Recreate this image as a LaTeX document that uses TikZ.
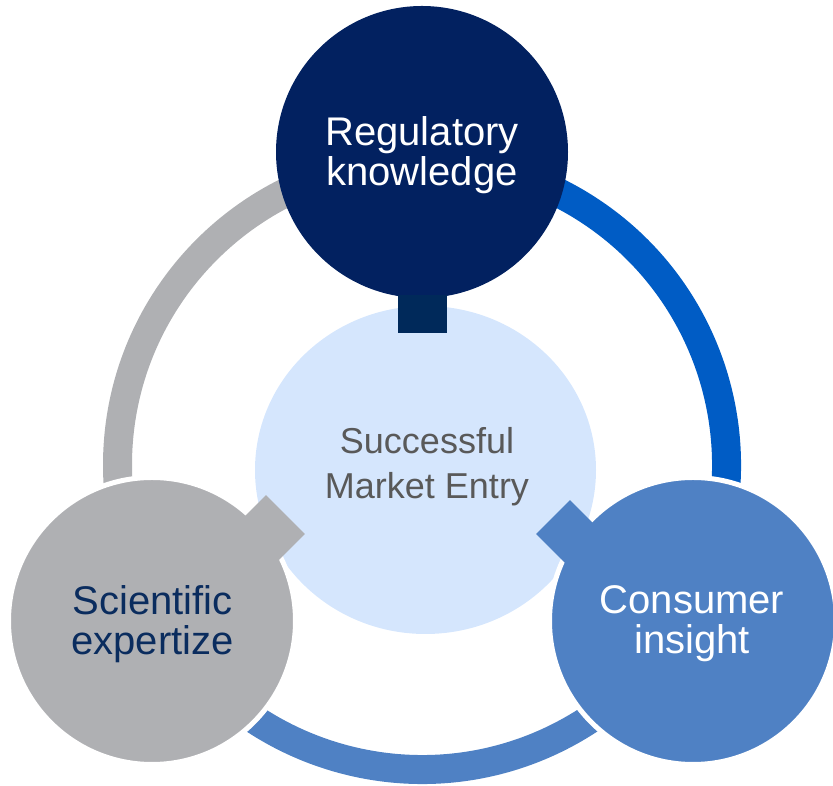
\documentclass[tikz,border=0pt]{standalone}
\usepackage{fontspec}
\setmainfont{Liberation Sans}
\usetikzlibrary{shapes.geometric}
\definecolor{navy}{HTML}{022160}
\definecolor{navylink}{HTML}{00295A}
\definecolor{greyring}{HTML}{AFB0B3}
\definecolor{brightblue}{HTML}{005CC5}
\definecolor{midblue}{HTML}{4F81C4}
\definecolor{paleblue}{HTML}{D5E6FD}
\definecolor{textgrey}{HTML}{595959}
\definecolor{textnavy}{HTML}{0A2C5E}
\tikzset{
  bubble/.style={circle, inner sep=0pt, minimum size=287pt, draw=white, line width=5pt},
  bubbletext/.style={align=center, inner sep=0pt, font=\fontsize{40}{40}\selectfont},
  link/.style={rectangle, inner sep=0pt, draw=none},
}

\begin{document}
\begin{tikzpicture}[x=1pt,y=1pt]
\useasboundingbox (0,0) rectangle (833,786);
\coordinate (ring) at (422,321);
% outer ring in three parts
\draw[line width=29pt, greyring] ([shift={(90:304.5)}]ring) arc (90:210:304.5);
\draw[line width=29pt, brightblue] ([shift={(-30:304.5)}]ring) arc (-30:90:304.5);
\draw[line width=29pt, midblue] ([shift={(210:304.5)}]ring) arc (210:330:304.5);

\node[ellipse, fill=paleblue, inner sep=0pt, minimum width=341pt, minimum height=328pt] (goal) at (425.5,316) {};
\node[bubbletext, font=\fontsize{36}{45}\selectfont, text=textgrey] (goaltext) at (427,319) {Successful\\Market Entry};

\node[circle, inner sep=0pt, minimum size=292pt, fill=navy] (regul) at (422,634) {};
\node[bubbletext, text=white] (regultext) at (422,631) {Regulatory\\knowledge};
\node[bubble, fill=greyring] (science) at (152,165) {};
\node[bubbletext, text=textnavy] (sciencetext) at (152.5,162) {Scientific\\expertize};
\node[bubble, fill=midblue] (consumer) at (693,165) {};
\node[bubbletext, text=white] (consumertext) at (692,162) {Consumer\\insight};

% links to the centre
\node[link, fill=navylink, minimum width=49pt, minimum height=38pt] (regullink) at (422.5,472) {};
\node[link, fill=greyring, minimum size=55pt, rotate=45] (sciencelink) at (266,252) {};
\node[link, fill=midblue, minimum size=48pt, rotate=45] (consumerlink) at (570,252) {};
\end{tikzpicture}
\end{document}
